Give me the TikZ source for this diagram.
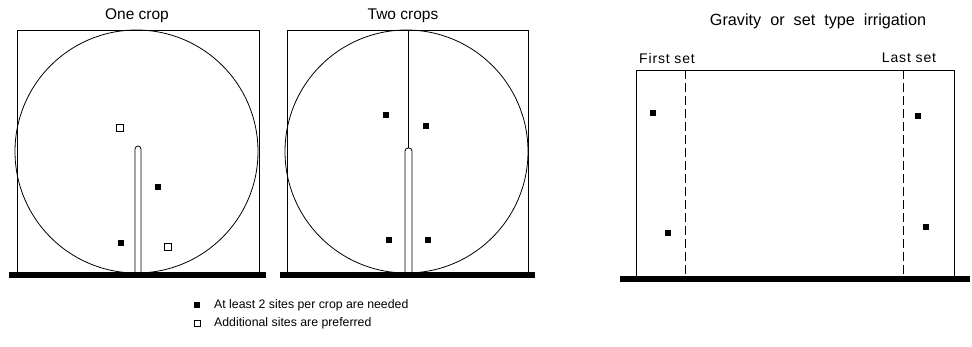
\documentclass[tikz,border=0pt]{standalone}
\usepackage{fontspec}
\setmainfont{Liberation Sans}
\newfontfamily\widefont[WordSpace=2.0]{Liberation Sans}
\newfontfamily\spacedfont[LetterSpace=6]{Liberation Sans}
\begin{document}
\begin{tikzpicture}[x=1pt,y=-1pt,
  thinline/.style={line width=0.8pt},
  ground/.style={fill=black,draw=none},
  filledsite/.style={draw=none,fill=black,minimum size=6pt,inner sep=0pt},
  opensite/.style={draw=black,fill=white,line width=0.8pt,minimum size=7pt,inner sep=0pt},
  titletext/.style={font=\fontsize{15.5}{18}\selectfont,inner sep=0pt},
  settext/.style={font=\spacedfont\fontsize{14}{16}\selectfont,inner sep=0pt},
  legendtext/.style={font=\fontsize{12.3}{14}\selectfont,inner sep=0pt,anchor=west},
  pipe/.style={draw=black,fill=white,line width=0.8pt,rounded corners=3pt}
]
\useasboundingbox (0,0) rectangle (972,346);
% ---------- Panel 1: One crop ----------
\node[titletext] (t1) at (137,16) {One crop};
\draw[thinline] (17,30) rectangle (259,273);
\draw[thinline] (136.5,151.5) circle (121.5);
\draw[pipe] (135,273) -- (135,146) -- (141,146) -- (141,273);
\fill[ground] (9,272) rectangle (266,278);
\node[opensite] (o1) at (120,128) {};
\node[opensite] (o2) at (168,247) {};
\node[filledsite] (f1) at (158,187) {};
\node[filledsite] (f2) at (121,243) {};
% ---------- Panel 2: Two crops ----------
\node[titletext] (t2) at (403,16) {Two crops};
\draw[thinline] (287,30) rectangle (528,273);
\draw[thinline] (406.5,151.5) circle (121.5);
\coordinate (ctop) at (408.5,30);
\draw[pipe] (405,273) -- (405,148) -- (412,148) -- (412,273);
\coordinate (ptop) at (408.5,148);
\draw[line width=0.6pt] (ctop) -- (ptop);
\fill[ground] (280,272) rectangle (535,278);
\node[filledsite] (f3) at (386,115) {};
\node[filledsite] (f4) at (426,126) {};
\node[filledsite] (f5) at (389,240) {};
\node[filledsite] (f6) at (428,240) {};
% ---------- Panel 3: Gravity ----------
\node[titletext,font=\widefont\fontsize{16.2}{19}\selectfont] (t3) at (818,21) {Gravity or set type irrigation};
\node[settext] (l1) at (667,58) {First set};
\node[settext] (l2) at (909,58) {Last set};
\draw[thinline] (636,277) -- (636,70) -- (954,70) -- (954,277);
\coordinate (d1t) at (685,70);
\coordinate (d1b) at (685,277);
\coordinate (d2t) at (903,70);
\coordinate (d2b) at (903,277);
\draw[thinline,dash pattern=on 9pt off 4pt] (d1t) -- (d1b);
\draw[thinline,dash pattern=on 9pt off 4pt] (d2t) -- (d2b);
\fill[ground] (620,276) rectangle (970,282);
\node[filledsite] (f7) at (653,113) {};
\node[filledsite] (f8) at (668,233) {};
\node[filledsite] (f9) at (918,116) {};
\node[filledsite] (f10) at (926,227) {};
% ---------- Legend ----------
\node[filledsite,minimum size=5.5pt] (lf) at (197,305) {};
\node[legendtext] (lt1) at (214,305) {At least 2 sites per crop are needed};
\node[opensite,minimum size=6pt] (lo) at (197,323) {};
\node[legendtext] (lt2) at (214,323) {Additional sites are preferred};
\end{tikzpicture}
\end{document}
